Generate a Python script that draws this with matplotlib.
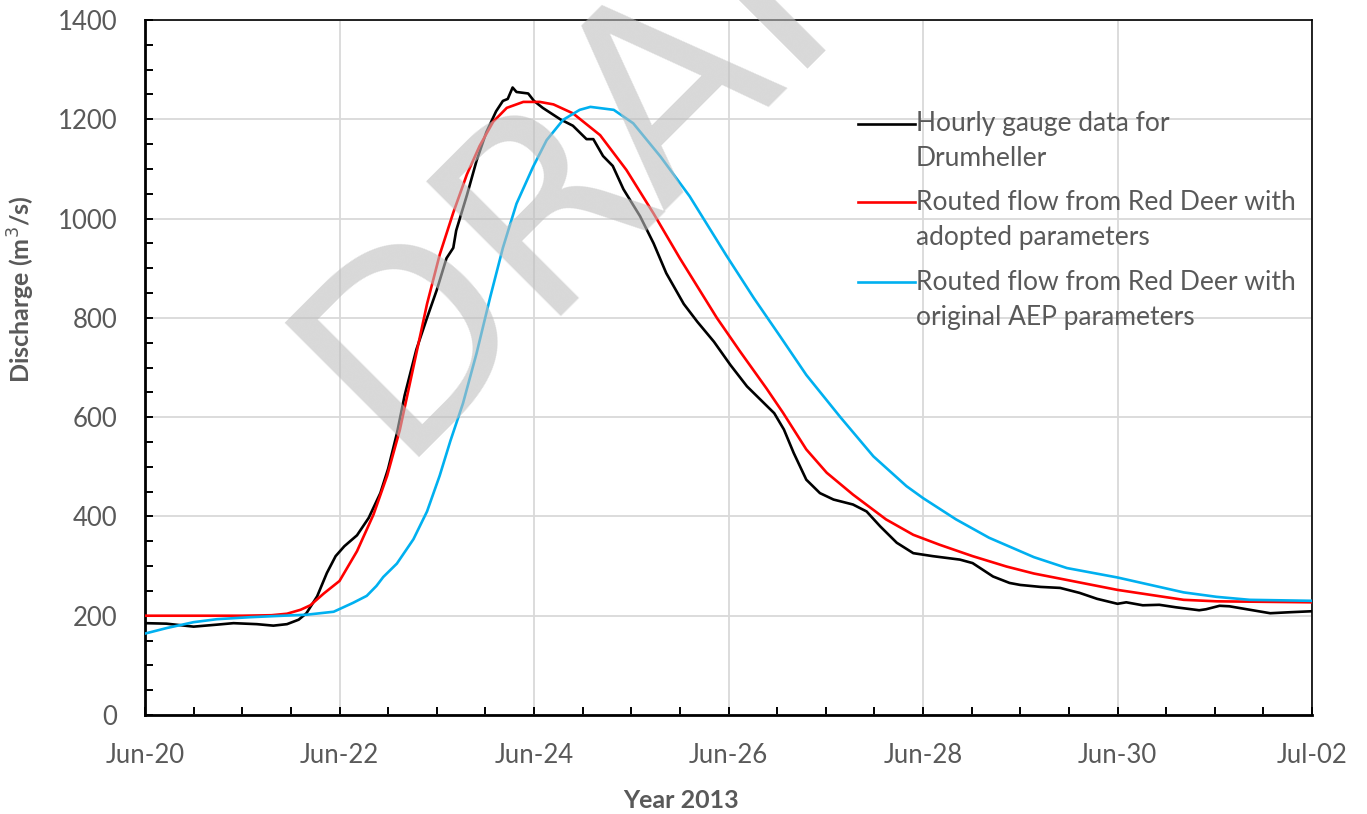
import matplotlib
matplotlib.use("Agg")
import matplotlib.pyplot as plt
from matplotlib.ticker import MultipleLocator

# ---------------- data (days after Jun-20 2013, discharge m3/s) ----------------
gauge_day = [0.00, 0.22, 0.50, 0.74, 0.91, 1.15, 1.32, 1.46, 1.58, 1.66, 1.77, 1.87,
             1.96, 2.05, 2.18, 2.30, 2.42, 2.50, 2.59, 2.67, 2.79, 2.90, 3.00, 3.10,
             3.17, 3.20, 3.31, 3.41, 3.51, 3.61, 3.68, 3.73, 3.78, 3.82, 3.94, 4.00,
             4.09, 4.27, 4.40, 4.54, 4.61, 4.71, 4.81, 4.92, 5.09, 5.23, 5.36, 5.54,
             5.68, 5.85, 6.02, 6.19, 6.33, 6.47, 6.57, 6.67, 6.80, 6.94, 7.08, 7.28,
             7.42, 7.56, 7.73, 7.90, 8.10, 8.38, 8.51, 8.72, 8.89, 9.00, 9.21, 9.41,
             9.61, 9.79, 10.00, 10.09, 10.26, 10.43, 10.60, 10.84, 10.91, 11.05, 11.15,
             11.36, 11.57, 11.77, 12.00]
gauge_q = [185, 184, 178, 182, 185, 183, 180, 183, 192, 205, 239, 286,
           320, 340, 362, 397, 447, 496, 567, 644, 736, 800, 856, 920,
           941, 976, 1047, 1117, 1174, 1216, 1237, 1241, 1264, 1255, 1252, 1237,
           1223, 1200, 1187, 1160, 1160, 1126, 1106, 1059, 1005, 950, 890, 828,
           792, 752, 705, 662, 635, 608, 575, 528, 474, 447, 434, 424,
           410, 380, 347, 326, 320, 313, 306, 279, 266, 262, 258, 256,
           246, 234, 224, 227, 221, 222, 217, 211, 213, 220, 219,
           212, 205, 207, 209]

adopted_day = [0.00, 0.50, 1.00, 1.30, 1.46, 1.60, 1.70, 1.84, 2.00, 2.18, 2.35, 2.49,
               2.62, 2.76, 2.90, 3.03, 3.17, 3.31, 3.44, 3.58, 3.72, 3.89, 4.06, 4.20,
               4.40, 4.68, 4.95, 5.23, 5.50, 5.88, 6.12, 6.39, 6.56, 6.80, 7.01, 7.28,
               7.62, 7.90, 8.17, 8.51, 8.86, 9.14, 9.48, 10.00, 10.34, 10.68, 11.02, 12.00]
adopted_q = [200, 200, 200, 201, 204, 212, 221, 245, 270, 330, 404, 482,
             574, 701, 828, 927, 1012, 1089, 1146, 1195, 1223, 1235, 1235, 1230,
             1212, 1168, 1098, 1010, 920, 800, 732, 658, 609, 535, 488, 444,
             394, 363, 343, 320, 299, 285, 272, 252, 242, 232, 229, 227]

original_day = [0.00, 0.22, 0.50, 0.74, 1.08, 1.42, 1.66, 1.94, 2.14, 2.28, 2.38, 2.45,
                2.59, 2.76, 2.90, 3.03, 3.14, 3.27, 3.41, 3.55, 3.68, 3.82, 3.99, 4.13,
                4.30, 4.47, 4.58, 4.82, 5.02, 5.30, 5.60, 5.98, 6.26, 6.53, 6.80,
                7.15, 7.49, 7.83, 8.00, 8.34, 8.68, 9.14, 9.48, 10.00, 10.34, 10.68,
                11.02, 11.36, 12.00]
original_q = [164, 175, 187, 193, 197, 200, 202, 208, 226, 240, 260, 278,
              305, 354, 410, 482, 552, 628, 729, 842, 941, 1030, 1104, 1158,
              1199, 1219, 1225, 1219, 1192, 1125, 1045, 925, 840, 763, 685,
              600, 521, 461, 437, 394, 357, 318, 296, 277, 262, 247,
              238, 232, 230]

series_labels = [["Hourly gauge data for", "Drumheller"],
                 ["Routed flow from Red Deer with", "adopted parameters"],
                 ["Routed flow from Red Deer with", "original AEP parameters"]]
series_colors = ["#000000", "#ff0000", "#00b0f0"]

x_tick_pos = [0, 2, 4, 6, 8, 10, 12]
x_tick_labels = ["Jun-20", "Jun-22", "Jun-24", "Jun-26", "Jun-28", "Jun-30", "Jul-02"]
y_ticks = [0, 200, 400, 600, 800, 1000, 1200, 1400]

# ---------------- figure ----------------
W, H = 1367, 814
fig = plt.figure(figsize=(W / 100, H / 100), dpi=100)
L, R, T, B = 145, 1312, 20, 715
ax = fig.add_axes([L / W, (H - B) / H, (R - L) / W, (B - T) / H])

txt_color = "#595959"
font = "Lato"

ax.plot(gauge_day, gauge_q, color=series_colors[0], lw=1.9, zorder=3)
ax.plot(adopted_day, adopted_q, color=series_colors[1], lw=1.9, zorder=3)
ax.plot(original_day, original_q, color=series_colors[2], lw=1.9, zorder=3)

ax.set_xlim(0, 12)
ax.set_ylim(0, 1400)
ax.set_xticks(x_tick_pos)
ax.set_xticklabels(x_tick_labels)
ax.xaxis.set_minor_locator(MultipleLocator(0.5))
ax.set_yticks(y_ticks)
ax.yaxis.set_minor_locator(MultipleLocator(50))

ax.grid(True, which="major", color="#d9d9d9", lw=1.3, zorder=0)
ax.set_axisbelow(True)

ax.tick_params(axis="both", which="both", direction="in", length=6, width=1.4,
               color="black", labelsize=18.5, labelcolor=txt_color)
ax.tick_params(axis="x", which="major", pad=20)
ax.tick_params(axis="y", which="major", pad=20)
for lab in ax.get_xticklabels() + ax.get_yticklabels():
    lab.set_fontfamily(font)

for side in ["left", "bottom"]:
    ax.spines[side].set_linewidth(2.0)
for side in ["top", "right"]:
    ax.spines[side].set_linewidth(1.2)
for s in ax.spines.values():
    s.set_color("black")

ax.set_xlabel("Year 2013", fontsize=18, fontweight="bold", color=txt_color,
              fontfamily=font)
ax.set_ylabel("Discharge (m$^3$/s)", fontsize=18, fontweight="bold", color=txt_color,
              fontfamily=font)
ax.xaxis.set_label_coords((681 - L) / (R - L), (B - 800) / (B - T))
ax.xaxis.label.set_verticalalignment("center")
ax.yaxis.set_label_coords((21 - L) / (R - L), (B - 289) / (B - T))
ax.yaxis.label.set_verticalalignment("center")

# ---------------- legend (handle aligned with first text line, like Excel) ----------------
def ax_x(px):
    return (px - L) / (R - L)

def ax_y(py):
    return (B - py) / (B - T)

leg_rows = [124, 202, 282]
line_gap = 35
for (lines, col, py) in zip(series_labels, series_colors, leg_rows):
    ax.plot([ax_x(858), ax_x(915)], [ax_y(py), ax_y(py)], color=col, lw=1.9,
            transform=ax.transAxes, clip_on=False, zorder=4)
    for i, t in enumerate(lines):
        ax.text(ax_x(916), ax_y(py + i * line_gap), t, transform=ax.transAxes,
                ha="left", va="center", fontsize=19, color=txt_color, fontfamily=font,
                zorder=4)

# ---------------- DRAFT watermark ----------------
fig.text(394 / W, 1 - 458 / H, "DRAFT", rotation=45, rotation_mode="anchor",
         ha="left", va="baseline", fontsize=188, color="#bfbfbf", alpha=0.6,
         fontfamily="DejaVu Sans", zorder=10)

fig.savefig("out.png", dpi=100)
